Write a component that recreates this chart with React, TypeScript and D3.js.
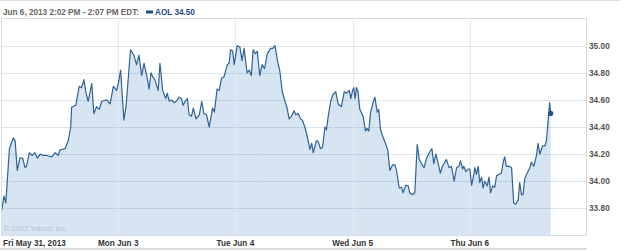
import React from "react";
import * as d3 from "d3";

// trading minutes since Fri May 31 open (390 minutes per trading day)
const minutes = [
  2, 10, 16, 28, 41, 47, 54, 63, 72, 80, 85, 94, 104, 113, 121, 130, 141, 152, 169, 180, 191, 196, 213, 224, 232, 235, 243, 249, 260, 268, 276, 283, 290, 302, 309, 318, 327, 335, 352, 363, 374, 385,
  391, 398, 409, 416, 431, 442, 451, 459, 468, 476, 485, 493, 499, 505, 512, 523, 529, 538, 548, 553, 560, 568, 575, 584, 593, 601, 606, 613, 620, 626, 634, 640, 649, 660, 668, 675, 684, 693, 704, 710, 719, 726, 734, 742, 753, 759, 764, 771, 776,
  786, 795, 802, 809, 819, 826, 833, 839, 846, 853, 861, 869, 877, 886, 897, 904, 912, 920, 928, 936, 945, 952, 959, 967, 975, 981, 989, 997, 1003, 1011, 1019, 1028, 1034, 1039, 1050, 1056, 1063, 1070, 1078, 1083, 1089, 1097, 1105, 1114, 1122, 1133, 1142, 1150, 1159, 1164,
  1170, 1174, 1178, 1183, 1188, 1194, 1205, 1213, 1218, 1224, 1230, 1238, 1244, 1252, 1257, 1263, 1272, 1281, 1287, 1294, 1303, 1311, 1316, 1325, 1333, 1338, 1347, 1355, 1360, 1369, 1377, 1385, 1392, 1399, 1408, 1416, 1425, 1434, 1440, 1447, 1455, 1462, 1469, 1477, 1482, 1491, 1499, 1508, 1516, 1524, 1529, 1536, 1540, 1547, 1554,
  1560, 1566, 1571, 1577, 1582, 1588, 1593, 1599, 1604, 1610, 1618, 1624, 1629, 1636, 1643, 1649, 1657, 1665, 1671, 1676, 1682, 1691, 1699, 1706, 1713, 1721, 1726, 1732, 1737, 1743, 1751, 1760, 1765, 1773, 1782, 1787, 1793, 1802, 1810, 1815, 1821, 1826, 1829,
];

const prices = [
  33.78, 33.89, 33.84, 34.24, 34.32, 34.3, 34.08, 34.17, 34.17, 34.1, 34.11, 34.21, 34.19, 34.21, 34.17, 34.2, 34.19, 34.19, 34.18, 34.21, 34.19, 34.23, 34.24, 34.3, 34.4, 34.545, 34.555, 34.56, 34.7, 34.69, 34.75, 34.65, 34.59, 34.72, 34.5, 34.55, 34.53, 34.59, 34.6, 34.57, 34.7, 34.67,
  34.73, 34.82, 34.45, 34.55, 34.97, 34.93, 34.86, 34.93, 34.78, 34.87, 34.78, 34.68, 34.8, 34.77, 34.75, 34.67, 34.87, 34.67, 34.61, 34.65, 34.59, 34.6, 34.58, 34.59, 34.62, 34.61, 34.56, 34.59, 34.61, 34.49, 34.48, 34.54, 34.46, 34.49, 34.59, 34.5, 34.49, 34.4, 34.54, 34.51, 34.68, 34.67, 34.76, 34.77, 34.86, 34.87, 34.97, 34.96, 34.86,
  35.0, 34.99, 34.89, 34.98, 34.8, 34.82, 34.78, 34.97, 34.94, 34.96, 34.78, 34.86, 34.83, 34.94, 34.98, 34.98, 35.0, 34.89, 34.81, 34.66, 34.59, 34.54, 34.46, 34.48, 34.52, 34.49, 34.5, 34.46, 34.45, 34.4, 34.33, 34.235, 34.28, 34.21, 34.3, 34.29, 34.24, 34.25, 34.4, 34.38, 34.48, 34.59, 34.64, 34.66, 34.57, 34.55, 34.66, 34.65, 34.67, 34.61,
  34.67, 34.69, 34.61, 34.69, 34.66, 34.53, 34.48, 34.37, 34.39, 34.37, 34.51, 34.58, 34.62, 34.51, 34.53, 34.38, 34.32, 34.27, 34.23, 34.08, 34.12, 34.12, 34.08, 33.95, 33.955, 33.915, 33.97, 33.965, 33.915, 33.9, 33.915, 34.27, 34.16, 34.13, 34.1, 34.17, 34.21, 34.24, 34.13, 34.2, 34.13, 34.06, 34.11, 34.14, 34.16, 34.1, 34.11, 34.0, 34.1, 34.11, 34.15, 34.09, 34.11, 34.07, 34.09,
  34.09, 33.97, 34.02, 34.1, 34.05, 34.11, 33.99, 34.03, 33.95, 34.0, 33.965, 34.03, 33.915, 33.965, 33.955, 34.04, 34.05, 34.06, 34.14, 34.18, 34.11, 34.11, 34.1, 33.84, 33.83, 33.86, 33.99, 33.9, 33.9, 34.02, 34.06, 34.1, 34.14, 34.11, 34.19, 34.28, 34.2, 34.26, 34.26, 34.3, 34.46, 34.58, 34.5,
];

const dayLabels = ["Fri May 31, 2013", "Mon Jun 3", "Tue Jun 4", "Wed Jun 5", "Thu Jun 6"];
const dayStarts = [0, 390, 780, 1170, 1560];
const yTicks = [33.8, 34.0, 34.2, 34.4, 34.6, 34.8, 35.0];
const headerText = "Jun 6, 2013 2:02 PM - 2:07 PM EDT:";
const legendText = "AOL 34.50";
const copyright = "\u00a9 2013 Yahoo! Inc.";

export default function App() {
  const W = 625;
  const H = 251;
  const left = 1.5;
  const right = 586.5;
  const top = 18.5;
  const bottom = 235.5;

  const x = d3.scaleLinear().domain([0, 1950]).range([1, 587]);
  const y = d3.scaleLinear().domain([33.8, 35.0]).range([208.3, 45.7]);

  const pts = minutes.map((m, i) => [m, prices[i]] as [number, number]);
  const line = d3.line<[number, number]>().x((d) => x(d[0])).y((d) => y(d[1]));
  const area = d3
    .area<[number, number]>()
    .x((d) => x(d[0]))
    .y0(bottom - 0.5)
    .y1((d) => y(d[1]));
  const last = pts[pts.length - 1];

  const font = "'Liberation Sans', Arial, sans-serif";

  return (
    <svg
      width={W}
      height={H}
      style={{ position: "absolute", left: 0, top: 0, display: "block", background: "#fff" }}
    >
      {/* top header line */}
      <line x1={0} x2={620} y1={0.5} y2={0.5} stroke="#dcdcdc" />
      <text x={3} y={15} fontFamily={font} fontWeight="bold" fontSize={8.2} fill="#666">
        {headerText}
      </text>
      <rect x={146} y={10.5} width={7} height={3} fill="#1f4e8c" />
      <text x={155} y={15} fontFamily={font} fontWeight="bold" fontSize={8.2} fill="#1f4e8c">
        {legendText}
      </text>

      {/* fill */}
      <path d={area(pts) || ""} fill="#d6e5f1" />

      {/* horizontal grid */}
      {yTicks.map((t) => (
        <line
          key={t}
          x1={left}
          x2={right}
          y1={Math.round(y(t)) + 0.5}
          y2={Math.round(y(t)) + 0.5}
          stroke="#7f9cb8"
          strokeOpacity={0.28}
        />
      ))}
      {/* vertical grid */}
      {dayStarts.slice(1).map((m) => (
        <line
          key={m}
          x1={Math.round(x(m)) + 0.5}
          x2={Math.round(x(m)) + 0.5}
          y1={top}
          y2={bottom}
          stroke="#e3e9ef"
        />
      ))}

      <text x={4} y={231} fontFamily={font} fontSize={7.5} fill="#b4c4d2">
        {copyright}
      </text>

      <path d={line(pts) || ""} fill="none" stroke="#2f6296" strokeWidth={1.2} strokeLinejoin="round" />
      <circle cx={x(last[0])} cy={y(last[1])} r={2.6} fill="#1f4e8c" />

      {/* frame */}
      <rect x={left} y={top} width={right - left} height={bottom - top} fill="none" stroke="#d3dde6" />

      {/* y labels */}
      {yTicks.map((t) => (
        <text
          key={t}
          x={589}
          y={y(t)}
          dy="0.35em"
          fontFamily={font}
          fontWeight="bold"
          fontSize={8.3}
          fill="#555"
        >
          {t.toFixed(2)}
        </text>
      ))}

      {/* x labels */}
      {dayLabels.map((lab, i) => (
        <text
          key={lab}
          x={i === 0 ? 3 : x(dayStarts[i])}
          y={246}
          textAnchor={i === 0 ? "start" : "middle"}
          fontFamily={font}
          fontWeight="bold"
          fontSize={8.2}
          fill="#333"
        >
          {lab}
        </text>
      ))}
      <line x1={0} x2={587} y1={249} y2={249} stroke="#dcdcdc" strokeWidth={2} />
    </svg>
  );
}
